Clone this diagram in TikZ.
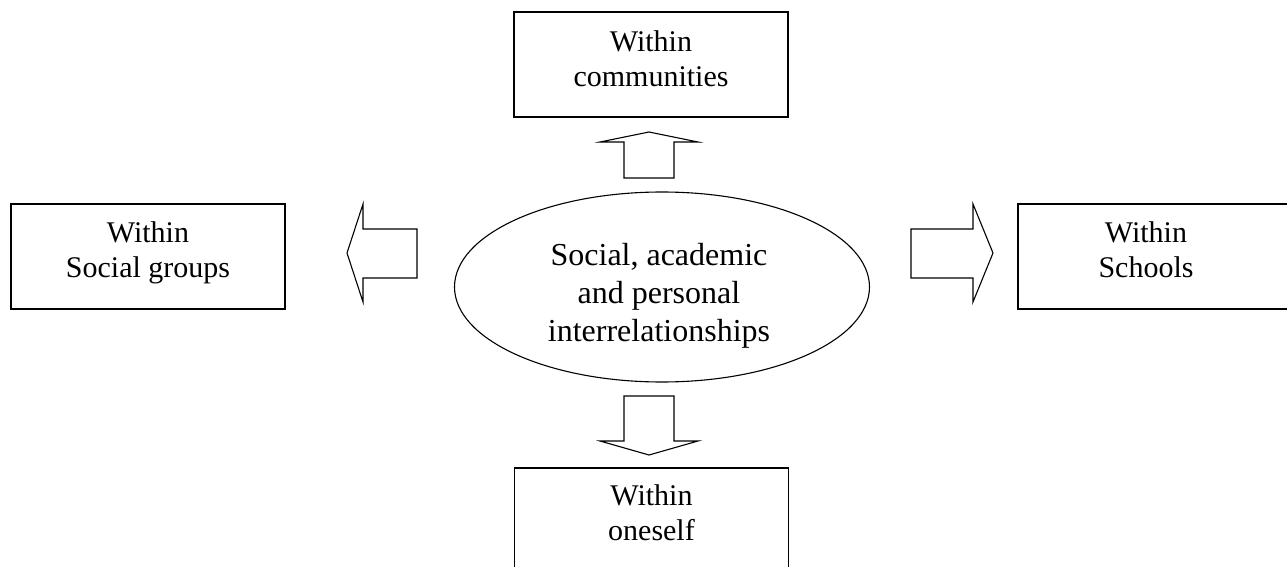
\documentclass[tikz,border=0pt]{standalone}
\usepackage{fontspec}
\setmainfont{Liberation Serif}
\usetikzlibrary{shapes.geometric}
\begin{document}
\begin{tikzpicture}[x=0.5pt,y=-0.5pt,
  box/.style={draw, line width=0.65pt, inner sep=0pt, minimum width=137pt, minimum height=52.5pt},
  lbl/.style={align=center, font=\fontsize{15pt}{17.5pt}\selectfont, anchor=base, inner sep=0pt},
  hublbl/.style={align=center, font=\fontsize{16pt}{19.25pt}\selectfont, anchor=base, inner sep=0pt},
  hub/.style={draw, ellipse, line width=0.55pt, minimum width=207.5pt, minimum height=95pt, inner sep=0pt},
  blockarrow/.style={draw, line width=0.55pt, line join=miter, fill=white}]
\useasboundingbox (0,0) rectangle (1287,567);

% central ellipse (labels are anchored at the baseline of their last line)
\node[hub] (hub) at (662,287) {};
\node[hublbl] (hubtext) at (659,342) {Social, academic\\and personal\\interrelationships};

% the four surrounding boxes
\node[box] (top) at (651,64.5) {};
\node[lbl] (toptext) at (651,86.5) {Within\\communities};

\node[box] (left) at (148,256.5) {};
\node[lbl] (lefttext) at (148,278) {Within\\Social groups};

\node[box] (right) at (1155,256.5) {};
\node[lbl] (righttext) at (1146,278) {Within\\Schools};

\node[box] (bottom) at (651.5,520.5) {};
\node[lbl] (bottomtext) at (651.5,540) {Within\\oneself};

% block arrows pointing outward from the ellipse
\draw[blockarrow] (624,178) -- (624,142) -- (600,142) -- (649,132) -- (698,142) -- (674,142) -- (674,178) -- cycle;
\draw[blockarrow] (624,396) -- (674,396) -- (674,441) -- (698,441) -- (649,455) -- (600,441) -- (624,441) -- cycle;
\draw[blockarrow] (417,229) -- (363,229) -- (363,204) -- (347,253) -- (363,302) -- (363,278) -- (417,278) -- cycle;
\draw[blockarrow] (911,229) -- (973,229) -- (973,204) -- (993,253) -- (973,302) -- (973,278) -- (911,278) -- cycle;
\end{tikzpicture}
\end{document}
